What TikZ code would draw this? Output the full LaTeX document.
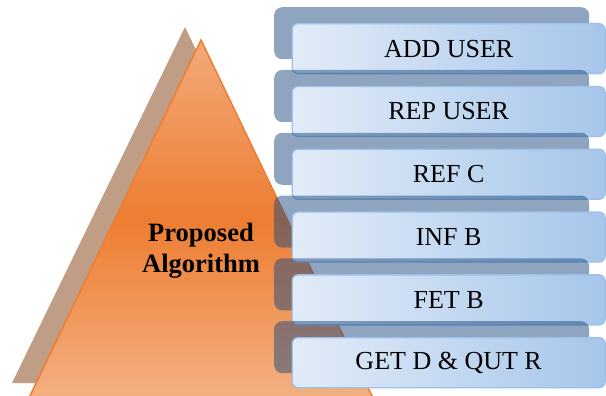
\documentclass[tikz,border=0pt]{standalone}
\usepackage{fontspec}
\setmainfont{Liberation Serif}
\definecolor{backblue}{HTML}{1F497D}
\definecolor{frontlight}{HTML}{E2ECF8}
\definecolor{frontblue}{HTML}{A6C6EA}
\definecolor{frontedge}{HTML}{9BC1E8}
\definecolor{orangeedge}{HTML}{ED7D31}
\definecolor{orangetop}{HTML}{F2AA7A}
\definecolor{orangemid}{HTML}{ED7D31}
\definecolor{orangebot}{HTML}{F4B183}
\definecolor{shadowtan}{HTML}{BF9E85}
\begin{document}
\begin{tikzpicture}[x=1pt,y=-1pt,
  backbox/.style={fill=backblue, fill opacity=0.5, rounded corners=8pt,
    minimum width=315pt, minimum height=52pt, inner sep=0pt, anchor=north west},
  frontbox/.style={draw=frontedge, line width=1.3pt, rounded corners=6pt,
    left color=frontlight, right color=frontblue,
    minimum width=313pt, minimum height=50pt, inner sep=0pt, anchor=north west,
    font=\fontsize{26}{30}\selectfont},
  titletext/.style={align=center, font=\fontsize{26.5}{31}\selectfont\bfseries}]
\path[use as bounding box, clip] (0,0) rectangle (606,396);
% pyramid
\fill[shadowtan] (185,27) -- (12,383) -- (357,383) -- cycle;
\path[draw=orangeedge, line width=1.5pt, top color=orangetop, bottom color=orangebot, middle color=orangemid]
  (201,40) -- (28,400) -- (374,400) -- cycle;
\node[titletext] (title) at (201,251) {Proposed\\Algorithm};
% stacked boxes
\node[backbox] (back1) at (274,7.0) {};
\node[frontbox] (box1) at (291.5,23.0) {ADD USER};
\node[backbox] (back2) at (274,69.8) {};
\node[frontbox] (box2) at (291.5,85.8) {REP USER};
\node[backbox] (back3) at (274,132.6) {};
\node[frontbox] (box3) at (291.5,148.6) {REF C};
\node[backbox] (back4) at (274,195.4) {};
\node[frontbox] (box4) at (291.5,211.4) {INF B};
\node[backbox] (back5) at (274,258.2) {};
\node[frontbox] (box5) at (291.5,274.2) {FET B};
\node[backbox] (back6) at (274,321.0) {};
\node[frontbox] (box6) at (291.5,337.0) {GET D \& QUT R};
\end{tikzpicture}
\end{document}
